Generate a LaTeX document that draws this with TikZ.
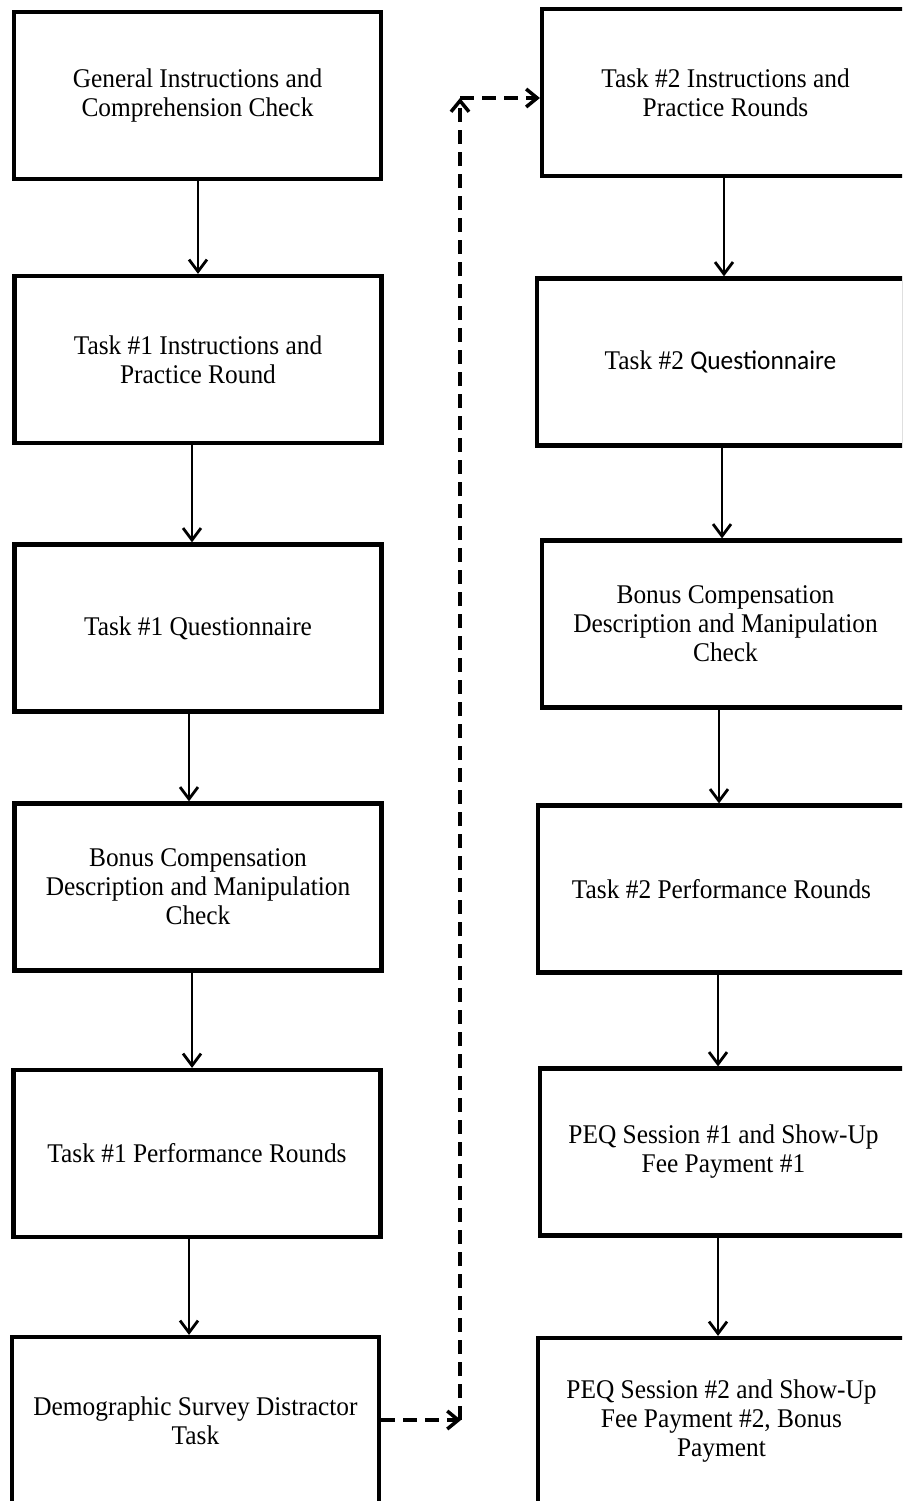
\documentclass[tikz,border=0pt]{standalone}
\usepackage{fontspec}
\setmainfont{Liberation Serif}[FakeStretch=0.94]
\newfontfamily\calfont{Carlito}[FakeStretch=0.94]
\usetikzlibrary{arrows.meta}
\begin{document}
\begin{tikzpicture}[x=1pt,y=-1pt,
  box/.style={draw, line width=4.2pt, rectangle, minimum width=367pt, minimum height=167pt,
    align=center, inner sep=0pt, font=\fontsize{27pt}{29pt}\selectfont},
  arr/.style={line width=2.8pt, -{Straight Barb[length=12pt,width=18pt]}},
  darr/.style={line width=3.5pt, dash pattern=on 14pt off 8pt, -{Straight Barb[length=11pt,width=18pt]}}]
\useasboundingbox (0,0) rectangle (902,1501);
\clip (0,0) rectangle (902,1501);
\fill[white] (0,0) rectangle (902,1501);
% left column
\node[box] (b1) at (197.5,95.5) {General Instructions and\\Comprehension Check};
\node[box] (b2) at (198,359.5) {Task \#1 Instructions and\\Practice Round};
\node[box] (b3) at (198,628) {Task \#1 Questionnaire};
\node[box] (b4) at (198,887) {Bonus Compensation\\Description and Manipulation\\Check};
\node[box] (b5) at (197,1153.5) {Task \#1 Performance Rounds};
\node[box] (b6) at (195.5,1420.5) {Demographic Survey Distractor\\Task};
% right column
\node[box] (r1) at (725.5,92.5) {Task \#2 Instructions and\\Practice Rounds};
\node[box] (r2) at (720.5,362) {Task \#2 {\calfont Questionnaire}};
\node[box] (r3) at (725.5,624) {Bonus Compensation\\Description and Manipulation\\Check};
\node[box] (r4) at (721.5,889) {Task \#2 Performance Rounds};
\node[box] (r5) at (723.5,1152) {PEQ Session \#1 and Show-Up\\Fee Payment \#1};
\node[box] (r6) at (721.5,1421.5) {PEQ Session \#2 and Show-Up\\Fee Payment \#2, Bonus\\Payment};
% left arrows
\draw[arr] ([xshift=0.5pt]b1.south) -- ([xshift=0.5pt]b1.south |- b2.north);
\draw[arr] ([xshift=-6pt]b2.south) -- ([xshift=-6pt]b2.south |- b3.north);
\draw[arr] ([xshift=-9pt]b3.south) -- ([xshift=-9pt]b3.south |- b4.north);
\draw[arr] ([xshift=-6pt]b4.south) -- ([xshift=-6pt]b4.south |- b5.north);
\draw[arr] ([xshift=-8pt]b5.south) -- ([xshift=-8pt]b5.south |- b6.north);
% right arrows
\draw[arr] ([xshift=-1.5pt]r1.south) -- ([xshift=-1.5pt]r1.south |- r2.north);
\draw[arr] ([xshift=1.5pt]r2.south) -- ([xshift=1.5pt]r2.south |- r3.north);
\draw[arr] ([xshift=-6.5pt]r3.south) -- ([xshift=-6.5pt]r3.south |- r4.north);
\draw[arr] ([xshift=-3.5pt]r4.south) -- ([xshift=-3.5pt]r4.south |- r5.north);
\draw[arr] ([xshift=-5.5pt]r5.south) -- ([xshift=-5.5pt]r5.south |- r6.north);
% dashed connector
\coordinate (c1) at (461,1420);
\coordinate (c2) at (460,98);
\draw[darr] (b6.east |- c1) -- (c1);
\draw[darr] (c1 -| c2) -- (c2);
\draw[darr] (c2) -- (c2 -| r1.west);
\end{tikzpicture}
\end{document}
